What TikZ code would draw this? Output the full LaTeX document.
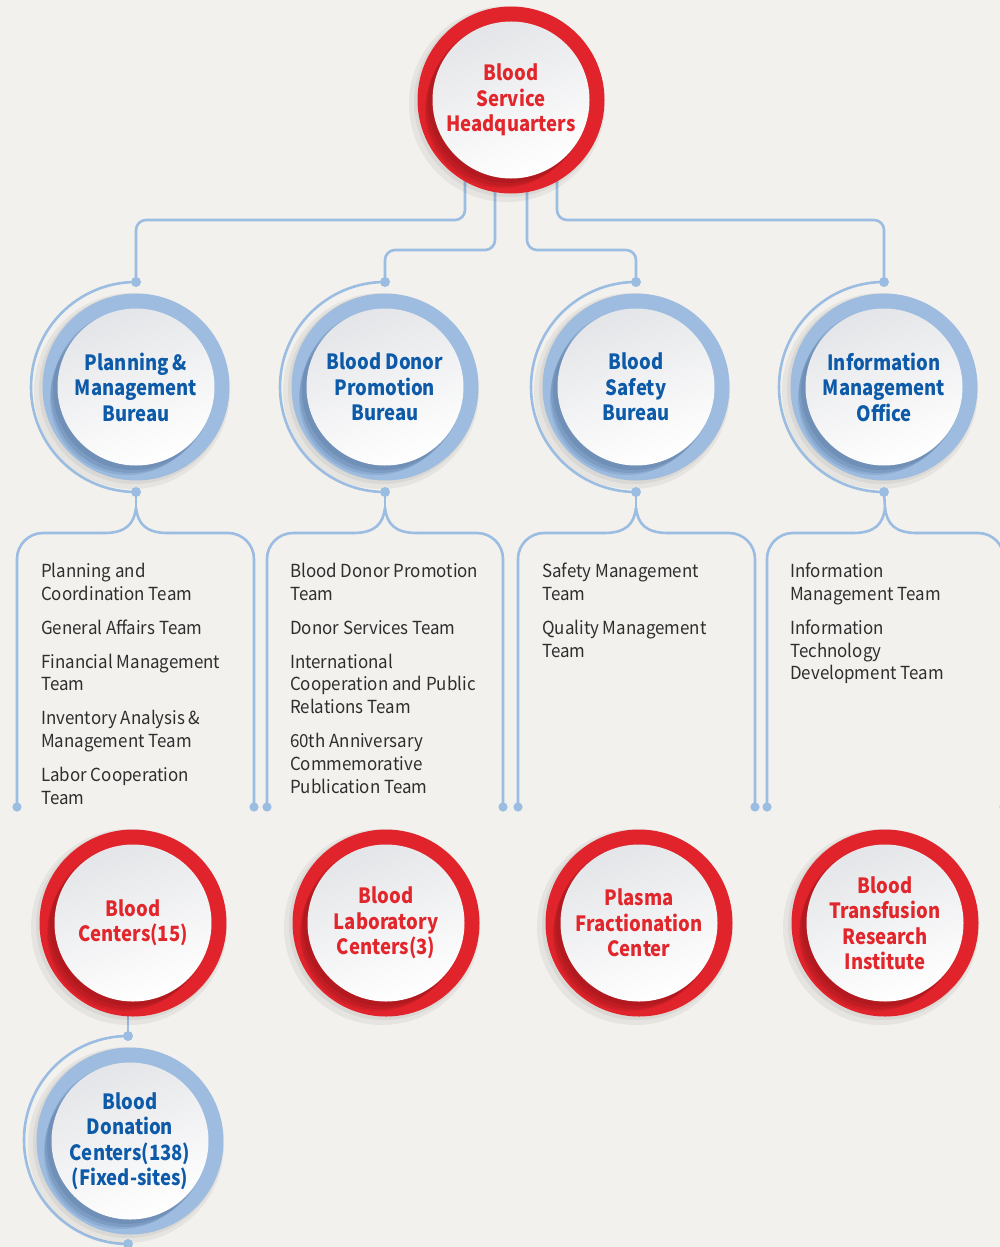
\documentclass[tikz,border=0pt]{standalone}
\usepackage{fontspec}
\setmainfont{Noto Sans CJK KR}
\newfontfamily\circfont[FakeStretch=0.88]{Noto Sans CJK KR}
\newfontfamily\teamfont[FakeStretch=0.94]{Noto Sans CJK KR}
\definecolor{bg}{HTML}{F3F1ED}
\definecolor{ringred}{HTML}{E1242B}
\definecolor{shred}{HTML}{8E1418}
\definecolor{ringblue}{HTML}{9DBCE0}
\definecolor{shblue}{HTML}{4F6F99}
\definecolor{linec}{HTML}{9CBDE2}
\definecolor{txtred}{HTML}{E1262C}
\definecolor{txtblue}{HTML}{0C5AA8}
\definecolor{txtgray}{HTML}{2E2E2E}
\definecolor{diskgray}{HTML}{E4E5E8}
\tikzset{
  ringnode/.style={circle, inner sep=0pt, minimum size=187pt},
  disk/.style={circle, inner sep=0pt, minimum size=157pt, align=center,
    top color=diskgray, bottom color=white, shading angle=20,
    font=\circfont\fontsize{21}{25.5}\selectfont\bfseries},
  conn/.style={draw=linec, line width=2.6pt},
  dotc/.style={fill=linec},
  teamtext/.style={anchor=north west, align=left, inner sep=0pt, text=txtgray,
    font=\teamfont\fontsize{18}{22.7}\selectfont}
}
\newcommand\OrgCircle[7]{%
  \fill[black,opacity=.05] ({#2-4},{#3+4}) circle (98);
  \fill[black,opacity=.05] ({#2-2},{#3+2}) circle (95);
  \node[ringnode, fill=#4] (#1-ring) at (#2,#3) {};
  \fill[#5,opacity=.25] ({#2-3},{#3+3}) circle (80);
  \fill[#5,opacity=.25] ({#2-6},{#3+7}) circle (79);
  \fill[#5,opacity=.2] ({#2-9},{#3+11}) circle (77);
  \node[disk, text=#6] (#1) at (#2,#3) {#7};
}
\begin{document}
\begin{tikzpicture}[x=1pt,y=-1pt]
\useasboundingbox (0,0) rectangle (1000,1247);
\fill[bg] (0,0) rectangle (1000,1247);
\clip (0,0) rectangle (1000,1247);

% dots / coordinates
\coordinate (t1) at (136,282); \coordinate (u1) at (136,492);
\coordinate (t2) at (385,282); \coordinate (u2) at (385,492);
\coordinate (t3) at (636,282); \coordinate (u3) at (636,492);
\coordinate (t4) at (884,282); \coordinate (u4) at (884,492);
\coordinate (t5) at (128,1036); \coordinate (u5) at (128,1244);
\coordinate (hqc) at (511,100);

% top connectors
\draw[conn, rounded corners=10pt] ([xshift=-46pt]hqc) |- ([yshift=62pt]t1) -- (t1);
\draw[conn, rounded corners=10pt] ([xshift=-16pt]hqc) |- ([yshift=32pt]t2) -- (t2);
\draw[conn, rounded corners=10pt] ([xshift=16pt]hqc) |- ([yshift=32pt]t3) -- (t3);
\draw[conn, rounded corners=10pt] ([xshift=46pt]hqc) |- ([yshift=62pt]t4) -- (t4);

% left arcs around blue circles
\foreach \i in {1,2,3,4}{
  \draw[conn] (t\i) arc[start angle=-90, end angle=-270, radius=105];
}
\draw[conn] (t5) arc[start angle=-90, end angle=-270, radius=104];

% braces
\foreach \i/\c/\l/\r in {1/136/17/254, 2/385/267/503, 3/636/518/755, 4/885/767/1004}{
  \coordinate (cusp\i) at (\c,508);
  \coordinate (bl\i) at (\l,807);
  \coordinate (br\i) at (\r,807);
  \draw[conn] (u\i) -- (cusp\i);
  \draw[conn, line cap=round] (cusp\i) .. controls (\c+2,524) and (\c+10,533) .. (\c+32,533);
  \draw[conn, line cap=round] (cusp\i) .. controls (\c-2,524) and (\c-10,533) .. (\c-32,533);
  \draw[conn, rounded corners=26pt] (\c+32,533) -- (\r,533) -- (br\i);
  \draw[conn, rounded corners=26pt] (\c-32,533) -- (\l,533) -- (bl\i);
  \fill[dotc] (bl\i) circle (4.6);
  \fill[dotc] (br\i) circle (4.6);
}

% blood centers -> donation centers
\draw[conn] (128,1000) -- (t5);

% circles
\OrgCircle{hq}{511}{100}{ringred}{shred}{txtred}{Blood\\Service\\Headquarters}
\OrgCircle{pmb}{136}{387}{ringblue}{shblue}{txtblue}{Planning \&\\Management\\Bureau}
\OrgCircle{bdp}{385}{387}{ringblue}{shblue}{txtblue}{Blood Donor\\Promotion\\Bureau}
\OrgCircle{bsb}{636}{387}{ringblue}{shblue}{txtblue}{Blood\\Safety\\Bureau}
\OrgCircle{imo}{884}{387}{ringblue}{shblue}{txtblue}{Information\\Management\\Office}
\OrgCircle{bc}{133}{923}{ringred}{shred}{txtred}{Blood\\Centers(15)}
\OrgCircle{blc}{386}{923}{ringred}{shred}{txtred}{Blood\\Laboratory\\Centers(3)}
\OrgCircle{pfc}{639}{923}{ringred}{shred}{txtred}{Plasma\\Fractionation\\Center}
\OrgCircle{btri}{885}{923}{ringred}{shred}{txtred}{Blood\\Transfusion\\Research\\Institute}
\OrgCircle{bdc}{130}{1141}{ringblue}{shblue}{txtblue}{Blood\\Donation\\Centers(138)\\(Fixed-sites)}

% dots on arcs
\foreach \i in {1,2,3,4,5}{
  \fill[dotc] (t\i) circle (5);
  \fill[dotc] (u\i) circle (5);
}

% team texts
\node[teamtext] (g1) at (41,563) {Planning and\\Coordination Team\\[11.3pt]General Affairs Team\\[11.3pt]Financial Management\\Team\\[11.3pt]Inventory Analysis \&\\Management Team\\[11.3pt]Labor Cooperation\\Team};
\node[teamtext] (g2) at (290,563) {Blood Donor Promotion\\Team\\[11.3pt]Donor Services Team\\[11.3pt]International\\Cooperation and Public\\Relations Team\\[11.3pt]60th Anniversary\\Commemorative\\Publication Team};
\node[teamtext] (g3) at (542,563) {Safety Management\\Team\\[11.3pt]Quality Management\\Team};
\node[teamtext] (g4) at (790,563) {Information\\Management Team\\[11.3pt]Information\\Technology\\Development Team};
\end{tikzpicture}
\end{document}
